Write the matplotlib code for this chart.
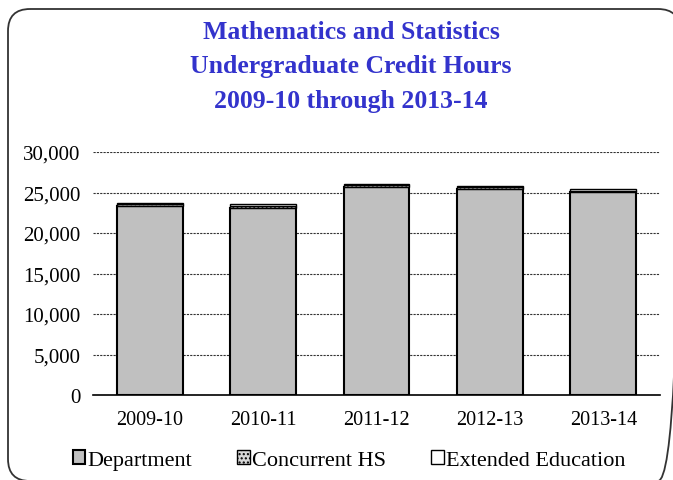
import numpy as np
import matplotlib
matplotlib.use("Agg")
import matplotlib.pyplot as plt
from matplotlib.patches import FancyBboxPatch

# ======================================================
# DATA
# ======================================================

YEARS = ["2009-10", "2010-11", "2011-12", "2012-13", "2013-14"]
DEPARTMENT = [23300, 23100, 25700, 25450, 25050]
CONCURRENT_HS = [250, 200, 250, 250, 150]
EXTENDED_ED = [100, 300, 100, 150, 250]

TITLE = "Mathematics and Statistics\nUndergraduate Credit Hours\n2009-10 through 2013-14"

# ======================================================
# SETUP
# ======================================================

plt.rcParams["font.family"] = ["Liberation Serif", "DejaVu Serif"]
TITLE_COLOR = "#3333CC"
W, H, DPI = 673, 481, 100

fig = plt.figure(figsize=(W / DPI, H / DPI), dpi=DPI)

# rounded outer border drawn in a full-figure pixel-space overlay
frame = fig.add_axes([0, 0, 1, 1], zorder=-1)
frame.set_xlim(0, W)
frame.set_ylim(H, 0)
frame.axis("off")
frame.add_patch(FancyBboxPatch((8, 10), 672, 472,
                               boxstyle="round,pad=0,rounding_size=22",
                               facecolor="none", edgecolor="#333333",
                               linewidth=1.3, clip_on=False))

# axes placed in pixel terms: left 93, right 660, top 153, bottom 396
ax = fig.add_axes([93 / W, 1 - 396 / H, (660 - 93) / W, (396 - 153) / H])

x = np.arange(len(YEARS))
width = 0.58
dept = np.array(DEPARTMENT)
conc = np.array(CONCURRENT_HS)
ext = np.array(EXTENDED_ED)

ax.bar(x, dept, width, color="#C0C0C0", edgecolor="black", linewidth=1.5,
       label="Department", zorder=3)
ax.bar(x, conc, width, bottom=dept, color="#D9D9D9", edgecolor="black",
       linewidth=1.0, hatch="....", label="Concurrent HS", zorder=3)
ax.bar(x, ext, width, bottom=dept + conc, color="white", edgecolor="black",
       linewidth=1.0, label="Extended Education", zorder=3)

ax.set_xlim(-0.5, len(YEARS) - 0.5)
ax.set_ylim(0, 30000)
ax.set_yticks(np.arange(0, 30001, 5000))
ax.set_yticklabels([f"{v:,}" for v in range(0, 30001, 5000)], fontsize=15)
ax.set_xticks(x)
ax.set_xticklabels(YEARS, fontsize=14.5)
ax.tick_params(length=0)
ax.tick_params(axis="x", pad=11)
ax.tick_params(axis="y", pad=9)
ax.patch.set_alpha(0)

ax.yaxis.grid(True, linestyle=(0, (2, 1)), color="#333333", linewidth=0.8, zorder=0)
for s in ["left", "right", "top"]:
    ax.spines[s].set_visible(False)
ax.spines["bottom"].set_linewidth(1.2)
ax.spines["bottom"].set_zorder(4)

fig.text(351 / W, 1 - 67 / H, TITLE, ha="center", va="center", fontsize=18.5,
         fontweight="bold", color=TITLE_COLOR, linespacing=1.62)

leg = fig.legend(loc="center", bbox_to_anchor=(349 / W, 1 - 461 / H), ncol=3,
                 frameon=False, fontsize=16, handlelength=0.55, handleheight=0.55,
                 handletextpad=0.1, columnspacing=2.05)

fig.savefig("out.png", dpi=DPI)
